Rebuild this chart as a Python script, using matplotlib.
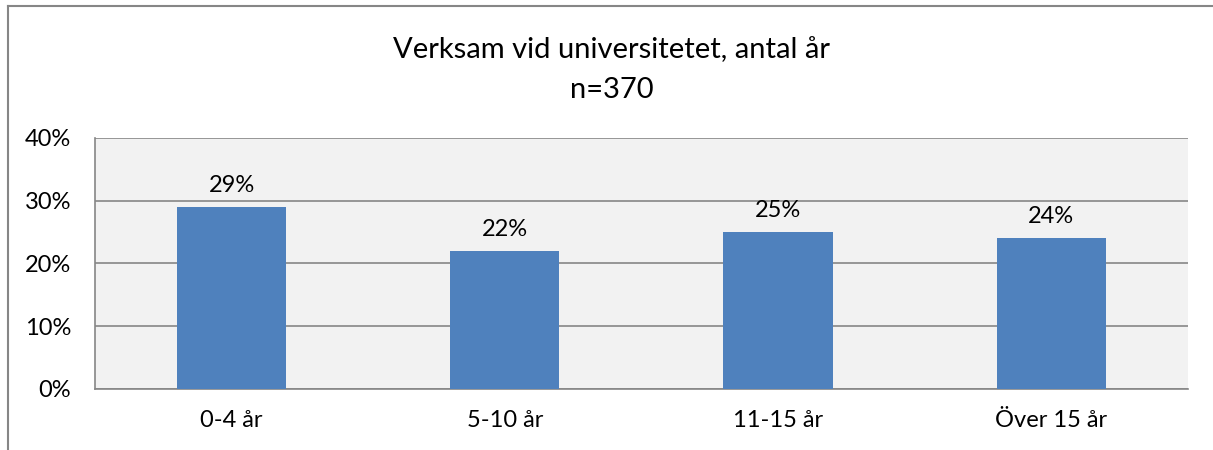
import matplotlib
matplotlib.use("Agg")
import matplotlib.pyplot as plt
from matplotlib.lines import Line2D
from matplotlib.ticker import FuncFormatter

plt.rcParams["font.family"] = ["Lato", "DejaVu Sans"]

categories = ["0-4 år", "5-10 år", "11-15 år", "Över 15 år"]
values = [29, 22, 25, 24]
y_ticks = [0, 10, 20, 30, 40]

title = "Verksam vid universitetet, antal år"
subtitle = "n=370"

bar_color = "#4f81bd"
grid_color = "#868686"

fig = plt.figure(figsize=(12.13, 4.5), dpi=100)
ax = fig.add_axes([0.0783, 0.1356, 0.901, 0.5578])
ax.set_facecolor("#f2f2f2")

x = range(len(categories))
bars = ax.bar(x, values, width=0.4, color=bar_color, zorder=3)
for b, v in zip(bars, values):
    ax.annotate(f"{v}%", (b.get_x() + b.get_width() / 2, b.get_height()),
                xytext=(0, 8), textcoords="offset points",
                ha="center", va="bottom", fontsize=17)

ax.set_xlim(-0.5, len(categories) - 0.5)
ax.set_ylim(0, 40)
ax.set_yticks(y_ticks)
ax.yaxis.set_major_formatter(FuncFormatter(lambda v, _: f"{v:.0f}%"))
ax.set_xticks(list(x))
ax.set_xticklabels(categories)
ax.grid(axis="y", color=grid_color, linewidth=1.2, zorder=0)
ax.tick_params(axis="both", length=0, labelsize=17)
ax.tick_params(axis="x", pad=15)
ax.tick_params(axis="y", pad=17)

for side in ["top", "right"]:
    ax.spines[side].set_visible(False)
ax.spines["left"].set_color(grid_color)
ax.spines["left"].set_linewidth(1.2)
ax.spines["bottom"].set_color(grid_color)
ax.spines["bottom"].set_linewidth(1.2)

fig.text(0.5045, 0.889, title, ha="center", va="center", fontsize=21)
fig.text(0.5045, 0.80, subtitle, ha="center", va="center", fontsize=21)

# outer chart frame (top and left edges visible)
fig.add_artist(Line2D([0.0062, 1.0], [0.9867, 0.9867], color=grid_color, linewidth=1.5))
fig.add_artist(Line2D([0.0062, 0.0062], [0.0, 0.9867], color=grid_color, linewidth=1.5))

fig.savefig("out.png", dpi=100)
